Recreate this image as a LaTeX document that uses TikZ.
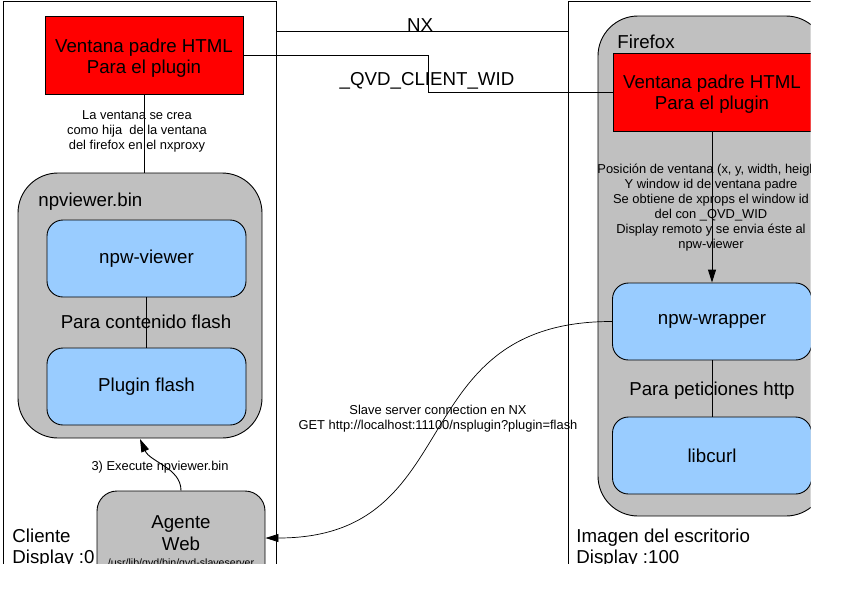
\documentclass[tikz,border=0pt]{standalone}
\usepackage{fontspec}
\setmainfont{Liberation Sans}
\usetikzlibrary{arrows.meta}
\definecolor{myred}{HTML}{FF0000}
\definecolor{myblue}{HTML}{99CCFF}
\definecolor{mygray}{HTML}{C0C0C0}
\begin{document}
\begin{tikzpicture}[x=1pt,y=-1pt,line width=0.9pt,
  bigtxt/.style={font=\fontsize{18.7}{21}\selectfont,inner sep=0pt},
  smalltxt/.style={font=\fontsize{12.9}{15}\selectfont,align=center,inner sep=0pt},
  tinytxt/.style={font=\fontsize{10.6}{12}\selectfont,inner sep=0pt},
  redbox/.style={draw,fill=myred,minimum width=198pt,minimum height=78pt,inner sep=0pt},
  bluebox/.style={draw,fill=myblue,rounded corners=16pt,minimum width=199pt,minimum height=77pt,
    font=\fontsize{18.7}{21}\selectfont,inner sep=0pt},
  container/.style={draw,fill=mygray,rounded corners=40pt,inner sep=0pt},
  frame/.style={draw,inner sep=0pt},
  tip/.style={-{Triangle[length=13pt,width=8pt]}}
]
\useasboundingbox (0,0) rectangle (841,595);
\clip (0,0) rectangle (810.5,563);
% frames
\node[frame,minimum width=273pt,minimum height=700pt] (lframe) at (139.5,351) {};
\node[frame,minimum width=300pt,minimum height=700pt] (rframe) at (718,351) {};
% containers
\node[container,minimum width=244pt,minimum height=265pt] (npv) at (140,305.5) {};
\node[container,minimum width=228pt,minimum height=500pt] (ff) at (712,266) {};
\node[container,rounded corners=20pt,minimum width=168pt,minimum height=94pt] (agente) at (181,538) {};
% container labels
\node[bigtxt,anchor=base west] (npvlbl) at (38,206) {npviewer.bin};
\node[bigtxt,anchor=base west] (fflbl) at (617,48) {Firefox};
% red boxes
\node[redbox] (lred) at (144,55) {};
\node[bigtxt,anchor=base] (lred1) at (144,52) {Ventana padre HTML};
\node[bigtxt,anchor=base] (lred2) at (144,73) {Para el plugin};
\node[redbox] (rred) at (712,92) {};
\node[bigtxt,anchor=base] (rred1) at (712,88) {Ventana padre HTML};
\node[bigtxt,anchor=base] (rred2) at (712,109) {Para el plugin};
% blue boxes
\node[bluebox] (viewer) at (146.5,258.5) {npw-viewer};
\node[bluebox] (flash) at (146.5,386.5) {Plugin flash};
\node[bluebox] (wrapper) at (712,321.5) {npw-wrapper};
\node[bluebox] (curl) at (712,455.5) {libcurl};
% agente text
\node[bigtxt,anchor=base] (ag1) at (181,528) {Agente};
\node[bigtxt,anchor=base] (ag2) at (181,550) {Web};
\node[tinytxt,anchor=base] (ag3) at (181,566) {/usr/lib/qvd/bin/qvd-slaveserver};
% connectors
\draw (lred.south) -- (lred.south |- npv.north);
\draw (viewer.south) -- (flash.north);
\draw (wrapper.south) -- (curl.north);
\draw (lframe.east |- 0,31) -- (rframe.west |- 0,31);
\draw (lred.east) -- ++(185,0) |- (rred.west);
\draw[tip] (rred.south) -- (wrapper.north);
\draw[tip] (agente.north) .. controls (181,468) and (150,462) .. (140,439);
\draw[tip,line width=0.7pt] (wrapper.west) .. controls (400,321) and (470,538) .. (agente.east);
% labels
\node[smalltxt] (l1) at (137,131) {La ventana se crea\\como hija\ \ de la ventana\\del firefox en el nxproxy};
\node[bigtxt,anchor=base] (nx) at (420,31) {NX};
\node[bigtxt,anchor=base] (qvd) at (427,85) {\_QVD\_CLIENT\_WID};
\node[smalltxt] (l2) at (711,208) {Posición de ventana (x, y, width, height)\\Y window id de ventana padre\\Se obtiene de xprops el window id\\del con \_QVD\_WID\\Display remoto y se envia éste al\\npw-viewer};
\node[bigtxt,anchor=base] (pcf) at (146,328) {Para contenido flash};
\node[bigtxt,anchor=base] (pph) at (712,395) {Para peticiones http};
\node[smalltxt,anchor=base] (exe) at (160,470) {3) Execute npviewer.bin};
\node[smalltxt] (slave) at (438,419) {Slave server connection en NX\\GET http://localhost:11100/nsplugin?plugin=flash};
\node[bigtxt,anchor=base west] (cli1) at (12,542) {Cliente};
\node[bigtxt,anchor=base west] (cli2) at (12,563) {Display :0};
\node[bigtxt,anchor=base west] (img1) at (576,542) {Imagen del escritorio};
\node[bigtxt,anchor=base west] (img2) at (576,563) {Display :100};
\end{tikzpicture}
\end{document}
